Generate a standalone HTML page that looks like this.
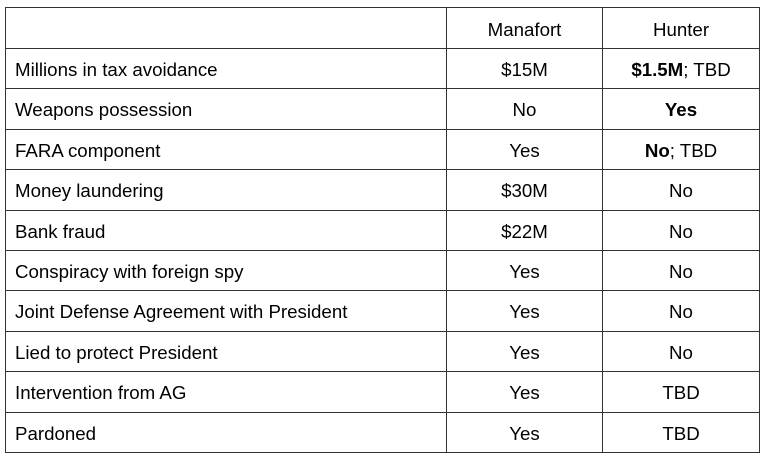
<!DOCTYPE html>
<html><head><style>
body{margin:0;width:768px;height:461px;background:#fff;position:relative;font-family:"Liberation Sans",Arial,sans-serif;font-size:18.7px;color:#000;overflow:hidden}
.h{position:absolute;left:5px;width:755px;height:1px;background:#333}
.v{position:absolute;top:7px;height:446px;width:1px;background:#333}
.t{position:absolute;height:40px;line-height:40px;white-space:nowrap;margin-top:2px}
.c1{left:447px;width:155px;text-align:center}
.c2{left:603px;width:156px;text-align:center}
.c0{left:15px}
</style></head><body>
<div class="v" style="left:5px"></div><div class="v" style="left:446px"></div><div class="v" style="left:602px"></div><div class="v" style="left:759px"></div>
<div class="h" style="top:7px"></div>
<div class="h" style="top:48px"></div><div class="h" style="top:88px"></div><div class="h" style="top:129px"></div><div class="h" style="top:169px"></div><div class="h" style="top:210px"></div><div class="h" style="top:250px"></div><div class="h" style="top:290px"></div><div class="h" style="top:331px"></div><div class="h" style="top:371px"></div><div class="h" style="top:412px"></div><div class="h" style="top:452px"></div>
<div class="t c1" style="top:8px">Manafort</div><div class="t c2" style="top:8px">Hunter</div>
<div class="t c0" style="top:48px">Millions in tax avoidance</div><div class="t c1" style="top:48px">$15M</div><div class="t c2" style="top:48px"><b>$1.5M</b>; TBD</div>
<div class="t c0" style="top:88px">Weapons possession</div><div class="t c1" style="top:88px">No</div><div class="t c2" style="top:88px"><b>Yes</b></div>
<div class="t c0" style="top:129px">FARA component</div><div class="t c1" style="top:129px">Yes</div><div class="t c2" style="top:129px"><b>No</b>; TBD</div>
<div class="t c0" style="top:169px">Money laundering</div><div class="t c1" style="top:169px">$30M</div><div class="t c2" style="top:169px">No</div>
<div class="t c0" style="top:210px">Bank fraud</div><div class="t c1" style="top:210px">$22M</div><div class="t c2" style="top:210px">No</div>
<div class="t c0" style="top:250px">Conspiracy with foreign spy</div><div class="t c1" style="top:250px">Yes</div><div class="t c2" style="top:250px">No</div>
<div class="t c0" style="top:290px">Joint Defense Agreement with President</div><div class="t c1" style="top:290px">Yes</div><div class="t c2" style="top:290px">No</div>
<div class="t c0" style="top:331px">Lied to protect President</div><div class="t c1" style="top:331px">Yes</div><div class="t c2" style="top:331px">No</div>
<div class="t c0" style="top:371px">Intervention from AG</div><div class="t c1" style="top:371px">Yes</div><div class="t c2" style="top:371px">TBD</div>
<div class="t c0" style="top:412px">Pardoned</div><div class="t c1" style="top:412px">Yes</div><div class="t c2" style="top:412px">TBD</div>
</body></html>
